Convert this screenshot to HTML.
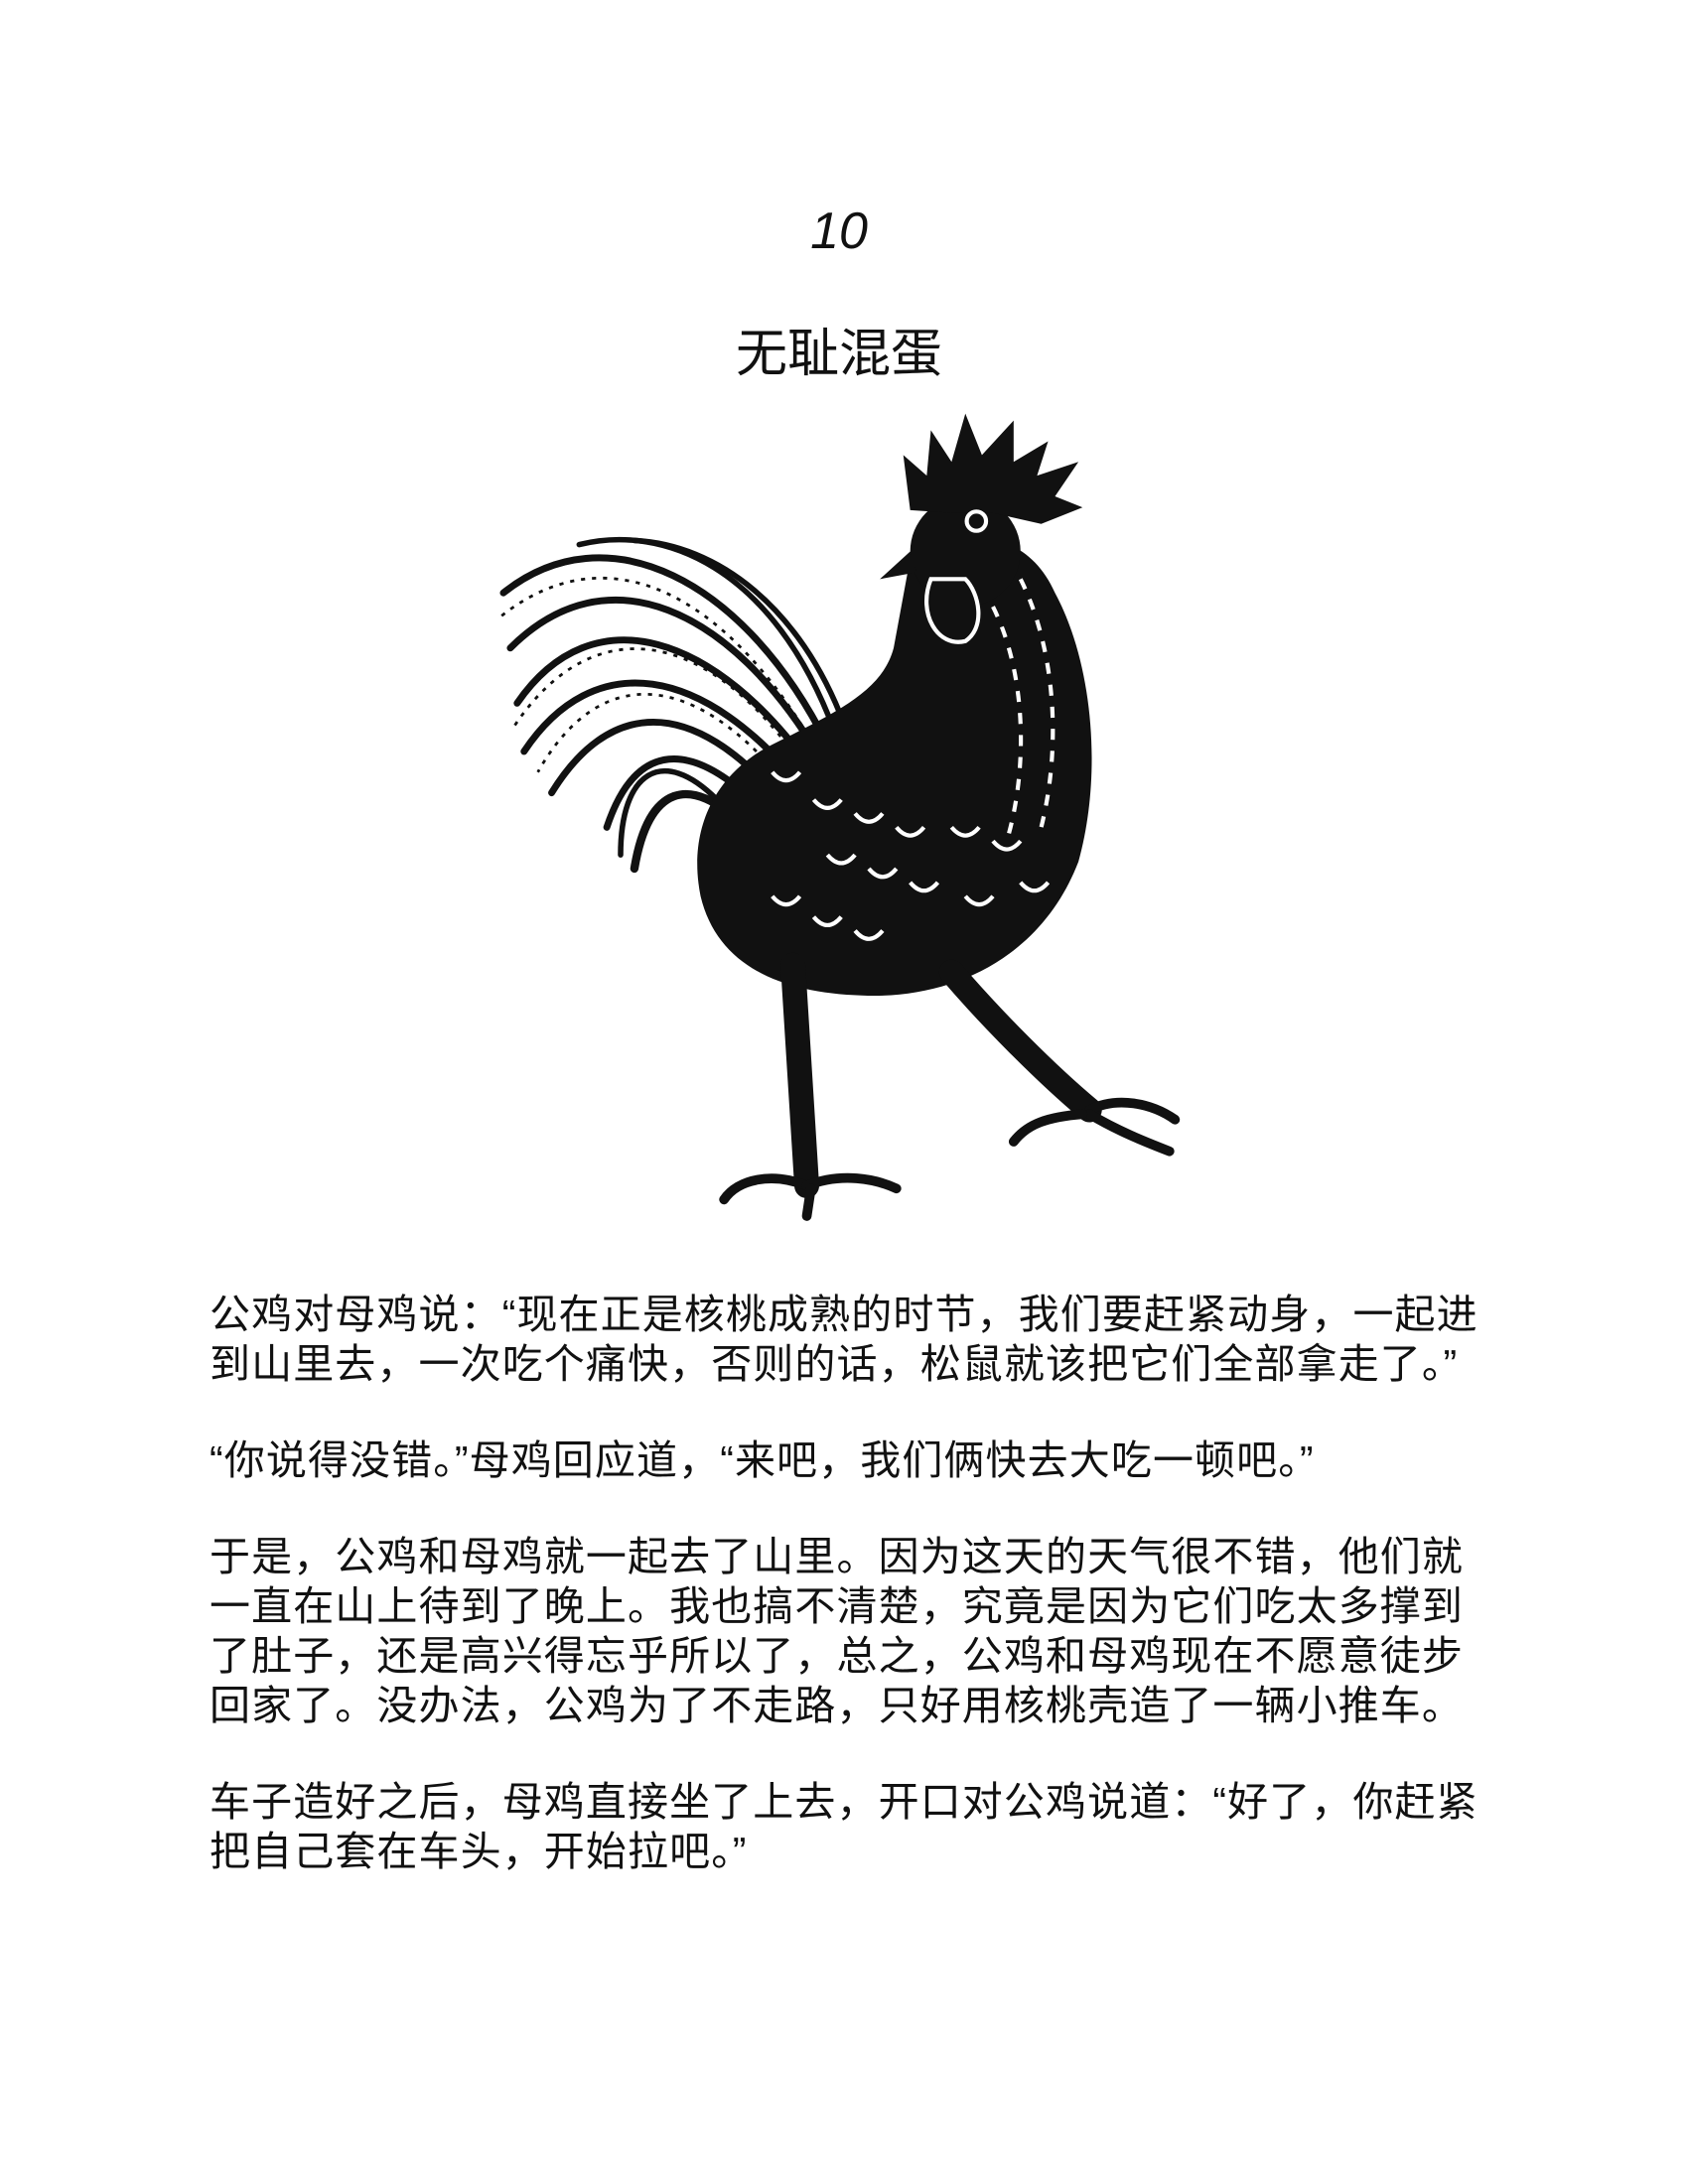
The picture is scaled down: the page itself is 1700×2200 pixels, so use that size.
<!DOCTYPE html>
<html><head><meta charset="utf-8"><style>
body{margin:0;background:#fff;}
#page{position:relative;width:1700px;height:2200px;background:#fff;overflow:hidden;font-family:"Liberation Sans","Noto Sans CJK SC",sans-serif;color:#111;}
.num{position:absolute;left:0;width:1690px;top:203px;text-align:center;font-size:52px;font-style:italic;}
.title{position:absolute;left:0;width:1690px;top:314px;text-align:center;font-size:52px;}
.text{position:absolute;left:211px;width:1350px;top:1299px;font-size:41px;line-height:50px;white-space:nowrap;letter-spacing:1.1px;}
.text p{margin:0 0 47px 0;}
svg{position:absolute;left:0;top:0;}
</style></head><body>
<div id="page">
<div class="num">10</div>
<div class="title">无耻混蛋</div>
<svg width="1700" height="2200" viewBox="0 0 1224 1584">
 <g fill="none" stroke="#111" stroke-linecap="round">
  <path d="M600,540 C540,420 440,370 365,430" stroke-width="5"/>
  <path d="M595,550 C530,440 440,400 370,470" stroke-width="5"/>
  <path d="M590,560 C520,460 430,430 375,510" stroke-width="5"/>
  <path d="M585,575 C510,480 430,470 380,545" stroke-width="5"/>
  <path d="M570,585 C500,500 440,510 400,575" stroke-width="5"/>
  <path d="M560,595 C500,530 460,540 440,600" stroke-width="5"/>
  <path d="M605,530 C560,410 480,380 420,395" stroke-width="4"/>
  <path d="M612,525 C580,440 520,395 460,392" stroke-width="4"/>
  <path d="M540,600 C500,560 470,570 460,630" stroke-width="6"/>
  <path d="M520,580 C480,540 450,560 450,620" stroke-width="4"/>
 </g>
 <g stroke="#111" stroke-width="2" stroke-dasharray="3 5" fill="none">
  <path d="M590,540 C525,430 440,385 362,448"/>
  <path d="M585,560 C515,455 430,440 372,528"/>
  <path d="M575,575 C505,485 435,480 390,560"/>
 </g>
 <path d="M660,405 C700,380 745,385 765,430 C792,480 800,560 782,625 C755,695 690,725 625,722 C565,720 520,700 508,650 C498,600 520,560 560,540 C610,515 640,500 648,470 Z" fill="#111"/>
 <circle cx="700" cy="400" r="40" fill="#111"/>
 <path d="M660,370 L655,330 L672,345 L675,312 L690,335 L700,300 L712,330 L735,305 L735,335 L760,320 L752,345 L782,335 L765,360 L785,368 L755,380 L720,372 L690,372 Z" fill="#111"/>
 <path d="M660,400 L638,420 L665,415 Z" fill="#111"/>
 <path d="M675,420 C665,445 680,470 700,465 C715,455 710,430 700,420 Z" fill="#111" stroke="#fff" stroke-width="3"/>
 <circle cx="708" cy="378" r="7" fill="none" stroke="#fff" stroke-width="3"/>
 <g stroke="#fff" stroke-width="3" fill="none" stroke-dasharray="8 8">
  <path d="M740,420 C765,470 770,540 755,600"/>
  <path d="M720,440 C745,490 745,560 730,610"/>
 </g>
 <g stroke="#fff" stroke-width="3" fill="none">
  <path d="M590,580 q10,12 20,0"/><path d="M620,590 q10,12 20,0"/><path d="M650,600 q10,12 20,0"/>
  <path d="M600,620 q10,12 20,0"/><path d="M630,630 q10,12 20,0"/><path d="M660,640 q10,12 20,0"/>
  <path d="M690,600 q10,12 20,0"/><path d="M720,610 q10,12 20,0"/><path d="M700,650 q10,12 20,0"/>
  <path d="M560,650 q10,12 20,0"/><path d="M590,665 q10,12 20,0"/><path d="M620,675 q10,12 20,0"/>
  <path d="M560,560 q10,12 20,0"/><path d="M740,640 q10,12 20,0"/>
 </g>
 <g stroke="#111" stroke-linecap="round" fill="none">
  <path d="M575,700 L585,860" stroke-width="18"/>
  <path d="M690,705 C720,740 760,780 790,805" stroke-width="18"/>
  <path d="M585,860 C560,850 535,855 525,870" stroke-width="7"/>
  <path d="M585,860 C610,850 635,855 650,862" stroke-width="7"/>
  <path d="M588,862 L585,882" stroke-width="7"/>
  <path d="M790,805 C810,795 835,800 852,812" stroke-width="7"/>
  <path d="M790,808 C810,820 830,828 848,835" stroke-width="7"/>
  <path d="M785,808 C760,810 745,815 735,828" stroke-width="7"/>
 </g>
</svg>
<div class="text">
<p>公鸡对母鸡说：“现在正是核桃成熟的时节，我们要赶紧动身，一起进<br>到山里去，一次吃个痛快，否则的话，松鼠就该把它们全部拿走了。”</p>
<p>“你说得没错。”母鸡回应道，“来吧，我们俩快去大吃一顿吧。”</p>
<p>于是，公鸡和母鸡就一起去了山里。因为这天的天气很不错，他们就<br>一直在山上待到了晚上。我也搞不清楚，究竟是因为它们吃太多撑到<br>了肚子，还是高兴得忘乎所以了，总之，公鸡和母鸡现在不愿意徒步<br>回家了。没办法，公鸡为了不走路，只好用核桃壳造了一辆小推车。</p>
<p>车子造好之后，母鸡直接坐了上去，开口对公鸡说道：“好了，你赶紧<br>把自己套在车头，开始拉吧。”</p>
</div>
</div>
</body></html>
